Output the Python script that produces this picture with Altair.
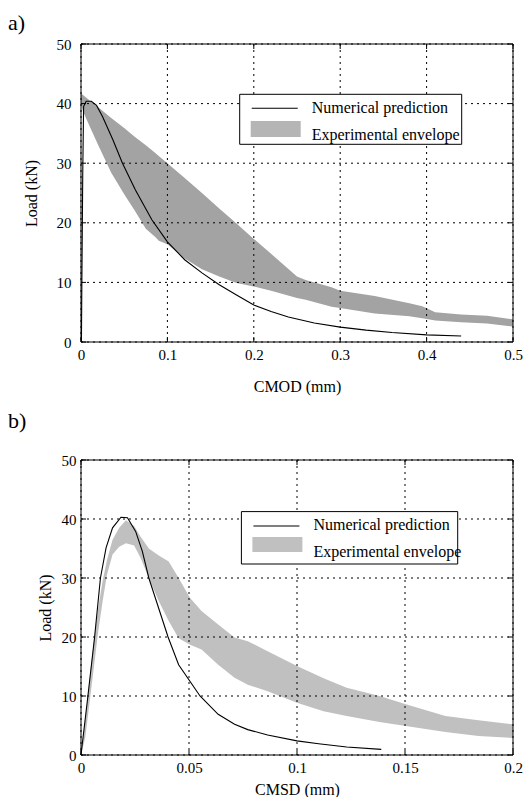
import altair as alt
import pandas as pd

FONT = "Liberation Serif, DejaVu Serif, Times New Roman, serif"

# ---------------- Panel a) : CMOD ----------------
num_a_x = [0.0005, 0.001, 0.002, 0.003, 0.006, 0.012, 0.018, 0.025, 0.037, 0.048, 0.063, 0.082,
           0.1, 0.12, 0.14, 0.16, 0.18, 0.2, 0.22, 0.24, 0.27, 0.3, 0.33, 0.36, 0.4, 0.44]
num_a_y = [0, 10, 28, 39.5, 40.4, 40.4, 39.7, 37.8, 33.9, 30.0, 25.5, 20.5,
           16.8, 13.8, 11.6, 9.6, 7.9, 6.2, 5.1, 4.2, 3.2, 2.5, 2.0, 1.6, 1.2, 1.0]

env_a_x = [0, 0.002, 0.01, 0.02, 0.035, 0.05, 0.0625, 0.075, 0.086, 0.09, 0.1, 0.12, 0.14,
           0.16, 0.18, 0.2, 0.22, 0.25, 0.26, 0.29, 0.3, 0.34, 0.38, 0.395, 0.41, 0.44, 0.47, 0.5]
env_a_hi = [41.7, 41.5, 40.5, 39.4, 37.6, 35.9, 34.4, 33.0, 31.7, 31.2, 30.0, 27.5, 25.0,
            22.4, 19.9, 17.3, 14.8, 11.0, 10.4, 9.2, 8.6, 7.7, 6.5, 6.0, 5.0, 4.6, 4.4, 3.8]
env_a_lo = [40.0, 38.8, 36.2, 33.0, 28.4, 24.8, 22.0, 19.0, 17.6, 17.0, 16.4, 14.0, 12.2,
            11.0, 9.9, 9.3, 8.6, 7.4, 7.1, 5.9, 5.7, 4.8, 4.3, 4.0, 3.6, 3.3, 3.1, 2.6]

# ---------------- Panel b) : CMSD ----------------
num_b_x = [0, 0.0032, 0.0063, 0.009, 0.0116, 0.0146, 0.0185, 0.0215, 0.0253, 0.0284, 0.0314,
           0.0403, 0.0452, 0.0551, 0.0635, 0.0711, 0.0772, 0.0864, 0.1, 0.11, 0.123, 0.139]
num_b_y = [0, 10, 20, 30, 35.1, 38.5, 40.3, 40.2, 37.9, 34.5, 30.0,
           20.0, 15.3, 10.0, 6.9, 5.2, 4.3, 3.4, 2.4, 1.9, 1.35, 0.95]

env_b_x = [0, 0.002, 0.004, 0.006, 0.008, 0.01, 0.012, 0.0146, 0.0177, 0.0208, 0.0246, 0.0276,
           0.0314, 0.036, 0.0406, 0.0452, 0.0505, 0.0558, 0.0635, 0.0711, 0.0772, 0.0864, 0.1,
           0.1123, 0.123, 0.1382, 0.1504, 0.1687, 0.184, 0.2]
env_b_hi = [0, 6, 13, 19.5, 25, 29.5, 33, 36.5, 38.5, 39.8, 38.8, 37.0,
            35.0, 33.8, 32.8, 30.0, 26.6, 24.4, 22.1, 19.9, 19.3, 17.6, 15.1,
            13.0, 11.4, 10.0, 8.6, 6.6, 5.9, 5.2]
env_b_lo = [0, 3, 9, 15, 21, 26, 30.5, 34.0, 35.3, 35.9, 35.5, 33.4,
            30.0, 26.1, 22.7, 19.8, 18.7, 17.9, 15.3, 13.1, 11.9, 10.8, 8.85,
            7.4, 6.6, 5.6, 4.9, 3.9, 3.2, 2.9]

y_ticks = [0, 10, 20, 30, 40, 50]
xa_ticks = [0, 0.1, 0.2, 0.3, 0.4, 0.5]
xb_ticks = [0, 0.05, 0.1, 0.15, 0.2]
legend_labels = ["Numerical prediction", "Experimental envelope"]

W = 432


def panel(tag, tag_y, xtitle, xdom, xticks, nx, ny, ex, ehi, elo, H, fill, swatch,
          ylab_pad, ytitle_pad, xtitle_pad, leg):
    xs = alt.Scale(domain=xdom, nice=False, zero=False)
    ys = alt.Scale(domain=[0, 50], nice=False, zero=False)
    xaxis = alt.Axis(values=xticks, format="~g", title=xtitle, grid=False, ticks=False,
                     domain=False, labelFont=FONT, titleFont=FONT, labelFontSize=15,
                     titleFontSize=16, titleFontWeight="normal", labelColor="black",
                     titleColor="black", labelPadding=5, titlePadding=xtitle_pad,
                     labelFlush=False, labelOverlap=False)
    yaxis = alt.Axis(values=y_ticks, title="Load (kN)", grid=False, ticks=False,
                     domain=False, labelFont=FONT, titleFont=FONT, labelFontSize=15,
                     titleFontSize=16, titleFontWeight="normal", labelColor="black",
                     titleColor="black", labelPadding=ylab_pad, titlePadding=ytitle_pad,
                     labelFlush=False, labelOverlap=False)

    env = pd.DataFrame({"x": ex, "hi": ehi, "lo": elo})
    num = pd.DataFrame({"x": nx, "y": ny})
    xt = pd.DataFrame({"t": xticks})
    yt = pd.DataFrame({"t": y_ticks})
    one = pd.DataFrame({"k": [0]})

    area = alt.Chart(env).mark_area(color=fill, opacity=1).encode(
        x=alt.X("x:Q", scale=xs, axis=xaxis),
        y=alt.Y("hi:Q", scale=ys, axis=yaxis),
        y2="lo:Q",
    )
    gx = alt.Chart(xt).mark_rule(color="black", strokeDash=[2, 4], strokeWidth=1).encode(
        x=alt.X("t:Q", scale=xs), y=alt.value(0), y2=alt.value(H))
    gy = alt.Chart(yt).mark_rule(color="black", strokeDash=[2, 4], strokeWidth=1).encode(
        y=alt.Y("t:Q", scale=ys), x=alt.value(0), x2=alt.value(W))
    tb = alt.Chart(xt).mark_rule(color="black", strokeWidth=1).encode(
        x=alt.X("t:Q", scale=xs), y=alt.value(H - 5), y2=alt.value(H))
    tt = alt.Chart(xt).mark_rule(color="black", strokeWidth=1).encode(
        x=alt.X("t:Q", scale=xs), y=alt.value(0), y2=alt.value(5))
    tl = alt.Chart(yt).mark_rule(color="black", strokeWidth=1).encode(
        y=alt.Y("t:Q", scale=ys), x=alt.value(0), x2=alt.value(5))
    tr = alt.Chart(yt).mark_rule(color="black", strokeWidth=1).encode(
        y=alt.Y("t:Q", scale=ys), x=alt.value(W - 5), x2=alt.value(W))
    line = alt.Chart(num).mark_line(color="black", strokeWidth=1.1).encode(
        x=alt.X("x:Q", scale=xs), y=alt.Y("y:Q", scale=ys), order="x:Q")
    frame = alt.Chart(one).mark_rect(filled=False, stroke="black", strokeWidth=1).encode(
        x=alt.value(0), x2=alt.value(W), y=alt.value(0), y2=alt.value(H))

    bx0, bx1, by0, by1, ly, sy0, sy1, t1, t2 = leg
    box = alt.Chart(one).mark_rect(fill="white", stroke="black", strokeWidth=1).encode(
        x=alt.value(bx0), x2=alt.value(bx1), y=alt.value(by0), y2=alt.value(by1))
    lline = alt.Chart(one).mark_rule(color="black", strokeWidth=1.1).encode(
        x=alt.value(bx0 + 12), x2=alt.value(bx0 + 58), y=alt.value(ly))
    lsw = alt.Chart(one).mark_rect(fill=swatch).encode(
        x=alt.value(bx0 + 11), x2=alt.value(bx0 + 61), y=alt.value(sy0), y2=alt.value(sy1))
    txt1 = alt.Chart(pd.DataFrame({"l": [legend_labels[0]]})).mark_text(
        font=FONT, fontSize=16, align="left", baseline="alphabetic", color="black").encode(
        text="l:N", x=alt.value(bx0 + 72), y=alt.value(t1))
    txt2 = alt.Chart(pd.DataFrame({"l": [legend_labels[1]]})).mark_text(
        font=FONT, fontSize=16, align="left", baseline="alphabetic", color="black").encode(
        text="l:N", x=alt.value(bx0 + 72), y=alt.value(t2))
    lab = alt.Chart(pd.DataFrame({"l": [tag]})).mark_text(
        font=FONT, fontSize=22, align="left", baseline="top", color="black").encode(
        text="l:N", x=alt.value(-73), y=alt.value(tag_y))

    return alt.layer(area, gx, gy, tb, tt, tl, tr, line, frame, box, lline, lsw, txt1, txt2,
                     lab).properties(width=W, height=H)


pa = panel("a)", -31, "CMOD (mm)", [0, 0.5], xa_ticks, num_a_x, num_a_y, env_a_x, env_a_hi,
           env_a_lo, 298, "#a3a3a3", "#b5b5b5", 10, 17, 16,
           (158.7, 380.7, 50.3, 100.3, 64.3, 77, 93, 69.3, 96))
pb = panel("b)", -49, "CMSD (mm)", [0, 0.2], xb_ticks, num_b_x, num_b_y, env_b_x, env_b_hi,
           env_b_lo, 295, "#c0c0c0", "#c0c0c0", 5, 8, 6,
           (160.4, 376.7, 51.6, 104, 66, 77, 92, 70, 97))

chart = alt.vconcat(pa, pb, spacing=118, bounds="flush").properties(
    padding={"left": 0, "top": 4, "right": 0, "bottom": 0}
).configure_view(strokeWidth=0)

chart.save("out.html", embed_options={"renderer": "svg", "actions": False})
